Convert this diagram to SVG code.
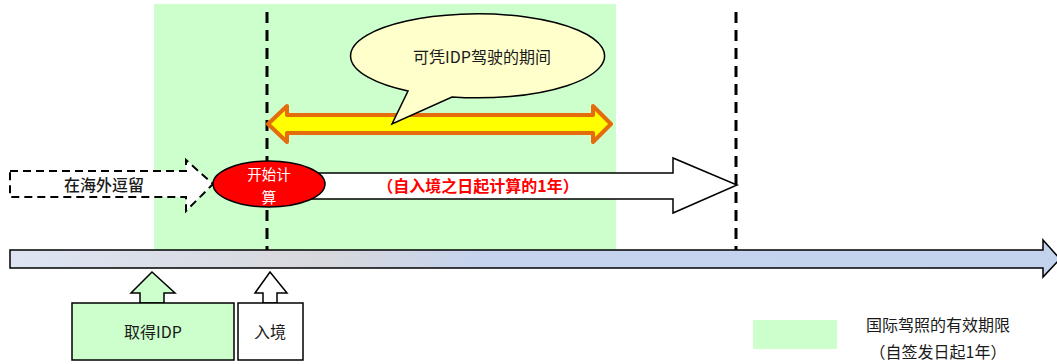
<svg xmlns="http://www.w3.org/2000/svg" width="1057" height="364" viewBox="0 0 1057 364">
<defs>
<linearGradient id="tl" x1="10" y1="0" x2="1060" y2="0" gradientUnits="userSpaceOnUse">
<stop offset="0" stop-color="#dee4f3"/>
<stop offset="0.3" stop-color="#d7d8dc"/>
<stop offset="0.45" stop-color="#c5d3ee"/>
<stop offset="1" stop-color="#c4d3ed"/>
</linearGradient>
</defs>
<style>
text{font-family:"Noto Sans CJK SC","Noto Sans",sans-serif;text-anchor:middle;dominant-baseline:central}
.blk{fill:#1a1a1a;font-size:16px}
.dash{stroke:#000;stroke-width:3;stroke-dasharray:11 7;fill:none}
.ol{stroke:#000;stroke-width:1.5}
</style>
<rect id="valid-period" x="154" y="4" width="462" height="248" fill="#ccffcc"/>
<g id="guides">
<line class="dash" x1="267" y1="12" x2="267" y2="250"/>
<line class="dash" x1="736" y1="12" x2="736" y2="250"/>
</g>
<g id="timeline">
<polygon points="10,250 1043,250 1043,240 1060,259 1043,277 1043,268 10,268" fill="url(#tl)" class="ol"/>
</g>
<g id="stay-abroad">
<polygon points="10,171 186,171 186,160 213,184 186,211 186,197 10,197" fill="#fff" stroke="#000" stroke-width="2" stroke-dasharray="8 5"/>
<text class="blk" x="104" y="184" font-size="17.5" font-weight="500">在海外逗留</text>
</g>
<g id="one-year">
<polygon points="300,173 673,173 673,158 737,185 673,213 673,199 300,199" fill="#fff" class="ol"/>
<text x="478" y="185" fill="#ff0000" font-size="16" font-weight="bold">（自入境之日起计算的1年）</text>
</g>
<g id="start">
<ellipse cx="269" cy="184" rx="56" ry="23" fill="#ff0000" class="ol"/>
<text x="269" y="173" fill="#fff" font-size="14.5">开始计</text>
<text x="269" y="196" fill="#fff" font-size="14.5">算</text>
</g>
<g id="drive-period">
<polygon points="268,124 287,106 287,115 593,115 593,106 611,124 593,142 593,133 287,133 287,142" fill="#ffff00" stroke="#e46c0a" stroke-width="4" stroke-linejoin="round"/>
</g>
<g id="bubble">
<path d="M408,91 A127,42 0 1 1 452,97 L392,124 Z" fill="#ffffcc" class="ol"/>
<text class="blk" x="482" y="56" font-size="17">可凭IDP驾驶的期间</text>
</g>
<g id="get-idp">
<polygon points="140,303 140,293 131,293 152,272 175,293 164,293 164,303" fill="#ccffcc" class="ol"/>
<rect x="72" y="303" width="162" height="57" fill="#ccffcc" class="ol"/>
<text class="blk" x="153" y="331">取得IDP</text>
</g>
<g id="entry">
<polygon points="263,303 263,293 255,293 270,272 287,293 277,293 277,303" fill="#fff" class="ol"/>
<rect x="238" y="303" width="65" height="57" fill="#fff" class="ol"/>
<text class="blk" x="270" y="331">入境</text>
</g>
<g id="legend">
<rect x="753" y="320" width="84" height="29" fill="#ccffcc"/>
<text class="blk" x="938" y="324" font-size="17.5">国际驾照的有效期限</text>
<text class="blk" x="938" y="351" font-size="17.5">（自签发日起1年）</text>
</g>
</svg>
